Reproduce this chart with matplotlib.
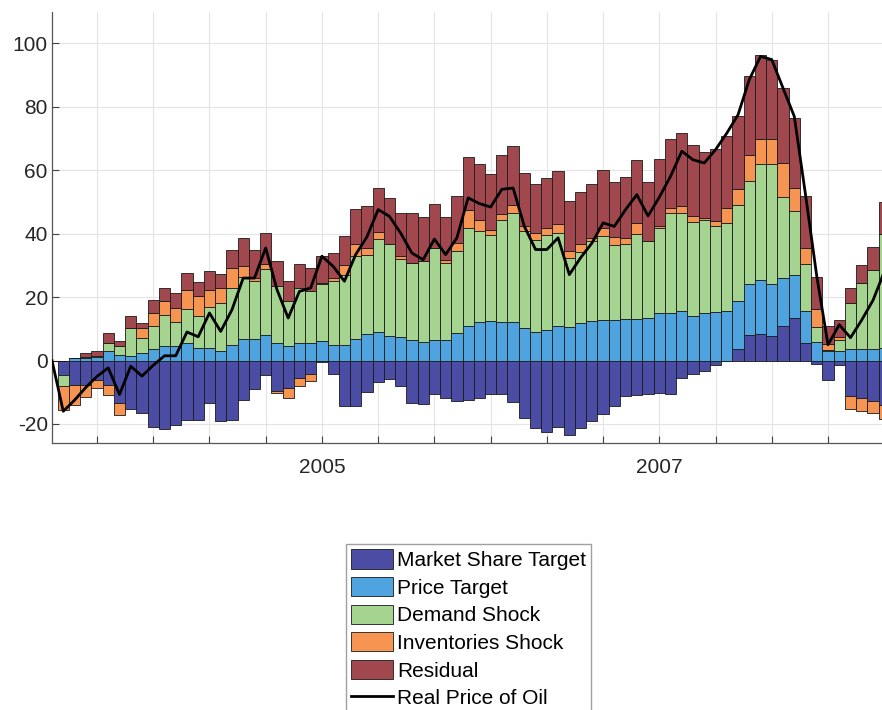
import numpy as np
import matplotlib
matplotlib.use("Agg")
import matplotlib.pyplot as plt

market_share = [0, -4.7, -7.6, -7.6, -6.0, -7.6, -13.3, -15.4, -16.5, -21.0, -21.7, -20.2, -18.8, -18.6, -13.3,
                -19.0, -18.8, -12.3, -9.1, -4.7, -9.7, -8.6, -5.5, -4.1, -0.5, -4.4, -14.4, -14.2, -10.0, -6.8,
                -5.8, -7.9, -13.3, -13.7, -10.7, -11.8, -12.6, -12.3, -11.8, -10.4, -10.5, -13.1, -18.0, -21.2, -22.6,
                -20.9, -23.6, -21.2, -19.1, -17.0, -14.2, -11.2, -11.0, -10.7, -10.2, -10.7, -5.5, -4.4, -3.4, -1.3,
                0.0, 3.5, 7.9, 8.4, 7.7, 11.0, 13.4, 5.6, -1.0, -6.0, -1.3, -11.2, -11.8, -12.8, -14.0]
price_target = [0, 0, 0.8, 0.8, 1.0, 2.9, 1.6, 1.4, 2.4, 3.5, 4.5, 4.5, 5.6, 4.0, 4.0,
                3.0, 5.0, 6.8, 6.8, 7.9, 5.6, 4.7, 5.6, 5.6, 6.1, 5.0, 5.0, 6.8, 8.4, 8.9,
                7.7, 7.5, 6.6, 5.8, 6.6, 6.6, 8.7, 11.0, 12.0, 12.4, 12.0, 12.0, 10.3, 8.9, 9.6,
                11.0, 10.6, 11.9, 12.4, 12.7, 12.9, 13.1, 13.1, 13.4, 15.0, 15.0, 15.5, 14.2, 15.0, 15.2,
                15.5, 15.2, 16.1, 16.9, 16.3, 15.0, 13.7, 10.0, 5.7, 3.0, 3.0, 3.5, 3.5, 3.5, 4.0]
demand = [0, -3.4, 0, 0.3, 0.5, 2.6, 2.9, 9.0, 4.7, 7.5, 10.0, 7.5, 10.5, 10.0, 13.0,
          15.0, 18.0, 19.7, 18.2, 21.0, 17.9, 14.0, 17.3, 16.3, 17.9, 20.0, 22.0, 26.3, 25.0, 29.4,
          28.9, 24.6, 24.2, 25.5, 28.9, 24.2, 25.7, 30.8, 28.7, 27.3, 32.3, 34.5, 30.5, 29.2, 30.1,
          29.2, 21.7, 22.3, 25.2, 26.5, 23.6, 23.7, 26.9, 24.2, 26.8, 31.5, 31.0, 29.4, 29.4, 27.1,
          28.0, 30.5, 32.6, 36.8, 38.1, 25.5, 20.0, 14.7, 5.0, 0.3, 3.6, 14.7, 21.0, 25.2, 36.0]
inventories = [0, -7.5, -6.3, -4.0, -2.6, -3.2, -4.0, 0, 3.2, 4.0, 4.2, 4.5, 6.3, 6.3, 5.3,
               5.0, 6.3, 3.4, 1.0, 1.4, -0.5, -3.2, -2.6, -2.4, 0.5, 1.0, 3.2, 3.5, 2.1, 2.1,
               0, 0.8, 0, 0, 0, 1.0, 2.8, 5.6, 3.7, 1.6, 1.9, 2.6, 1.6, 2.1, 2.1,
               2.9, 2.4, 2.4, 1.0, 2.6, 2.3, 1.8, 3.4, 0, 0.5, 1.6, 2.3, 2.1, 0.5, 1.6,
               4.5, 4.9, 8.1, 7.8, 7.8, 10.7, 7.4, 5.3, 5.4, 2.0, 0.7, -4.2, -4.2, -3.7, -4.5]
residual = [0, 0, 0, 1.2, 1.4, 3.2, 1.6, 3.6, 1.6, 4.2, 4.2, 4.8, 5.2, 4.4, 6.0,
            4.4, 5.5, 8.7, 9.0, 10.0, 7.9, 6.3, 7.4, 7.4, 8.6, 8.0, 9.2, 11.2, 13.1, 14.0,
            14.5, 13.7, 15.8, 14.0, 14.0, 13.4, 14.7, 16.8, 17.6, 17.6, 18.6, 18.7, 16.8, 15.5, 15.8,
            16.7, 15.7, 16.5, 17.1, 18.4, 17.6, 19.2, 19.7, 18.8, 21.2, 21.7, 22.9, 22.2, 21.0, 22.8,
            22.8, 22.9, 25.0, 26.3, 25.0, 23.6, 22.0, 16.3, 10.1, 5.6, 5.6, 4.8, 5.7, 7.0, 10.0]
real_price = [0, -16.0, -12.5, -8.5, -5.0, -2.3, -10.7, -1.8, -4.9, -1.5, 1.5, 1.5, 9.0, 7.5, 15.0,
              9.2, 16.0, 26.0, 26.0, 35.5, 22.4, 13.4, 21.8, 22.9, 32.9, 29.7, 25.0, 33.4, 39.0, 47.6,
              45.5, 40.2, 33.9, 31.8, 38.3, 33.4, 38.7, 51.3, 49.5, 48.4, 54.0, 54.4, 42.3, 35.0, 35.0,
              38.7, 27.1, 32.4, 37.0, 43.4, 42.3, 47.6, 52.3, 45.6, 51.5, 58.1, 66.0, 63.3, 62.3, 66.5,
              71.7, 77.5, 88.6, 95.9, 94.9, 85.9, 77.0, 52.3, 26.6, 5.0, 11.3, 7.2, 12.8, 19.0, 28.0]

labels = ["Market Share Target", "Price Target", "Demand Shock", "Inventories Shock", "Residual"]
colors = ["#4a4da3", "#4fa3de", "#a4d490", "#f69452", "#a0484e"]
tick_pos = [4, 9, 14, 19, 24, 29, 34, 39, 44, 49, 54, 59, 64, 69]
tick_lab = ["", "", "", "", "2005", "", "", "", "", "", "2007", "", "", ""]

plt.rcParams["font.family"] = ["Liberation Sans", "DejaVu Sans"]
plt.rcParams["axes.unicode_minus"] = False
fig = plt.figure(figsize=(8.82, 7.1), dpi=100)
ax = fig.add_axes([52 / 882, 1 - 443 / 710, 1 - 52 / 882, 431.3 / 710])
ax.set_axisbelow(True)

x = np.arange(len(real_price))
pos = np.zeros(len(x))
neg = np.zeros(len(x))
handles = []
for vals, lab, col in zip([market_share, price_target, demand, inventories, residual], labels, colors):
    v = np.array(vals)
    bottom = np.where(v >= 0, pos, neg)
    b = ax.bar(x, v, width=1.0, bottom=bottom, color=col, edgecolor="#1a1a1a", linewidth=0.6, label=lab)
    handles.append(b)
    pos = pos + np.clip(v, 0, None)
    neg = neg + np.clip(v, None, 0)

ln, = ax.plot(x, real_price, color="black", linewidth=2.0, label="Real Price of Oil", zorder=5)
handles.append(ln)

ax.set_xlim(0, 73.8)
ax.set_ylim(-26, 110)
ax.set_yticks([-20, 0, 20, 40, 60, 80, 100])
ax.set_xticks(tick_pos)
ax.set_xticklabels(tick_lab)
ax.tick_params(direction="in", length=5, color="#404040", labelcolor="#262626", labelsize=15)
ax.tick_params(axis="x", pad=11)
ax.tick_params(axis="y", pad=3)
ax.grid(True, color="#e4e4e4", linewidth=0.8)
for s in ["top", "right"]:
    ax.spines[s].set_visible(False)
for s in ["left", "bottom"]:
    ax.spines[s].set_color("#555555")
    ax.spines[s].set_linewidth(0.9)

fig.legend(handles=handles, labels=labels + ["Real Price of Oil"], loc="upper center",
           bbox_to_anchor=(468.5 / 882, 1 - 544 / 710), fontsize=15,
           handlelength=2.0, handleheight=1.05, handletextpad=0.2, labelspacing=0.33,
           borderpad=0.25, borderaxespad=0, fancybox=False, edgecolor="#a0a0a0", framealpha=1)

plt.savefig("out.png", dpi=100)
